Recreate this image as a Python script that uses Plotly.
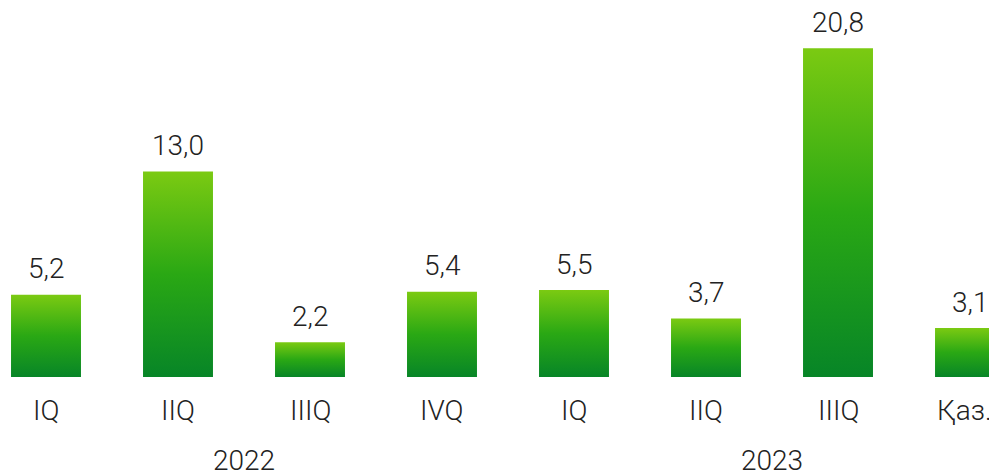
import plotly.graph_objects as go

categories = ["IQ", "IIQ", "IIIQ", "IVQ", "IQ", "IIQ", "IIIQ", "Қаз."]
values = [5.2, 13.0, 2.2, 5.4, 5.5, 3.7, 20.8, 3.1]
value_labels = ["5,2", "13,0", "2,2", "5,4", "5,5", "3,7", "20,8", "3,1"]
years = ["2022", "2023"]
year_positions = [1.5, 5.5]

BAR_HALF = 0.265
FONT = dict(family="Roboto", size=28, color="#222222", weight=300)
gradient = dict(type="vertical",
                colorscale=[[0, "#078527"], [0.5, "#2aa814"], [1, "#7bca12"]])

fig = go.Figure()
for i, v in enumerate(values):
    fig.add_trace(go.Scatter(
        x=[i - BAR_HALF, i - BAR_HALF, i + BAR_HALF, i + BAR_HALF, i - BAR_HALF],
        y=[0, v, v, 0, 0],
        mode="lines", line=dict(width=0),
        fill="toself", fillgradient=gradient,
        hoverinfo="skip", showlegend=False))

annotations = []
for i, (v, lab) in enumerate(zip(values, value_labels)):
    annotations.append(dict(x=i, y=v, text=lab, showarrow=False, yshift=26,
                            yanchor="middle", font=FONT))
for i, c in enumerate(categories):
    last = i == len(categories) - 1
    annotations.append(dict(x=i, y=0, text=c, showarrow=False, yshift=-33,
                            xshift=-6 if last else 0,
                            yanchor="middle", font=FONT))
for p, yr in zip(year_positions, years):
    annotations.append(dict(x=p, y=0, text=yr, showarrow=False, yshift=-83,
                            yanchor="middle", font=FONT))

fig.update_layout(
    width=989, height=468,
    margin=dict(l=0, r=0, t=0, b=0),
    paper_bgcolor="white", plot_bgcolor="white",
    xaxis=dict(range=[-0.2879, 7.2045], visible=False, fixedrange=True),
    yaxis=dict(range=[-6.266, 23.354], visible=False, fixedrange=True),
    annotations=annotations,
    showlegend=False,
)
fig.write_html("out.html")
